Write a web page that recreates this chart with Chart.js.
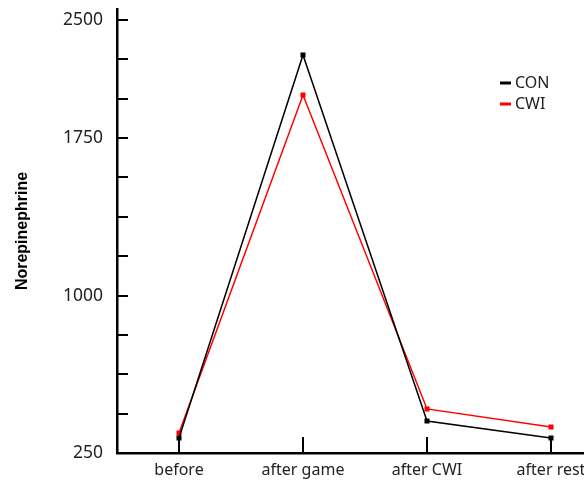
<!DOCTYPE html>
<html>
<head>
<meta charset="utf-8">
<script src="https://cdn.jsdelivr.net/npm/chart.js@4.4.1/dist/chart.umd.min.js"></script>
<style>
  html, body { margin: 0; padding: 0; background: #fff; overflow: hidden; }
  #wrap { width: 584px; height: 487px; overflow: hidden; }
</style>
</head>
<body>
<div id="wrap"><canvas id="chart" width="620" height="487"></canvas></div>
<script>
// data
const categories = ['before', 'after game', 'after CWI', 'after rest'];
const conValues = [328, 2318, 416, 328];
const cwiValues = [354, 2110, 479, 385];
// 12 evenly spaced ticks, only four carry labels
const yTickLabels = ['250', '', '', '', '1000', '', '', '', '1750', '', '', '2500'];
const yMin = 250, yTop = 2500, yMax = 2557;

const font = "'Noto Sans', sans-serif";

// inward tick marks on both axes
const innerTicks = {
    id: 'innerTicks',
    afterDraw(chart) {
        const ctx = chart.ctx;
        const xs = chart.scales.x, ys = chart.scales.y;
        const area = chart.chartArea;
        ctx.save();
        ctx.strokeStyle = '#000';
        ctx.lineWidth = 2;
        ys.ticks.forEach((t) => {
            const y = Math.round(ys.getPixelForValue(t.value));
            if (t.value === yMin) return;
            ctx.beginPath();
            ctx.moveTo(area.left, y);
            ctx.lineTo(area.left + 11, y);
            ctx.stroke();
        });
        categories.forEach((c, i) => {
            const x = Math.round(xs.getPixelForValue(i));
            ctx.beginPath();
            ctx.moveTo(x, area.bottom);
            ctx.lineTo(x, area.bottom - 16);
            ctx.stroke();
        });
        ctx.restore();
    }
};

// small legend in the upper right
const cornerLegend = {
    id: 'cornerLegend',
    afterDraw(chart) {
        const ctx = chart.ctx;
        ctx.save();
        ctx.font = '16px ' + font;
        ctx.textBaseline = 'middle';
        chart.data.datasets.forEach((ds, i) => {
            const y = 83 + i * 21;
            ctx.strokeStyle = ds.borderColor;
            ctx.lineWidth = 3;
            ctx.beginPath();
            ctx.moveTo(500, y);
            ctx.lineTo(511, y);
            ctx.stroke();
            ctx.fillStyle = '#222';
            ctx.fillText(ds.label, 515, y);
        });
        ctx.restore();
    }
};

new Chart(document.getElementById('chart'), {
    type: 'line',
    data: {
        labels: categories,
        datasets: [
            {
                label: 'CON',
                data: conValues,
                borderColor: '#000',
                backgroundColor: '#000',
                borderWidth: 1.5,
                pointStyle: 'rect',
                pointRadius: 2.5,
                tension: 0
            },
            {
                label: 'CWI',
                data: cwiValues,
                borderColor: '#ff0000',
                backgroundColor: '#ff0000',
                borderWidth: 1.5,
                pointStyle: 'rect',
                pointRadius: 2.5,
                tension: 0
            }
        ]
    },
    options: {
        responsive: false,
        animation: false,
        layout: { padding: { top: 9, right: 7, left: 0, bottom: 0 } },
        plugins: {
            legend: { display: false },
            tooltip: { enabled: false }
        },
        scales: {
            x: {
                offset: true,
                grid: { display: false, drawTicks: false },
                border: { display: true, color: '#000', width: 2.5 },
                ticks: { color: '#222', font: { family: font, size: 16 }, padding: 8 },
                afterFit: (s) => { s.height = 34; s.paddingLeft = 0; s.paddingRight = 0; }
            },
            y: {
                min: yMin,
                max: yMax,
                grid: { display: false, drawTicks: false },
                border: { display: true, color: '#000', width: 2.5 },
                afterBuildTicks: (s) => {
                    s.ticks = yTickLabels.map((l, i) => ({ value: yMin + i * (yTop - yMin) / 11 }));
                },
                ticks: {
                    color: '#222',
                    font: { family: font, size: 17.5 },
                    padding: 14,
                    autoSkip: false,
                    callback: (v, i) => yTickLabels[i]
                },
                title: {
                    display: true,
                    text: 'Norepinephrine',
                    color: '#000',
                    font: { family: "'Liberation Sans', Arial, sans-serif", size: 16, weight: 'bold' },
                    padding: { top: 13, bottom: 0 }
                },
                afterFit: (s) => { s.width = 117; s.paddingTop = 0; s.paddingBottom = 0; }
            }
        }
    },
    plugins: [innerTicks, cornerLegend]
});
</script>
</body>
</html>
